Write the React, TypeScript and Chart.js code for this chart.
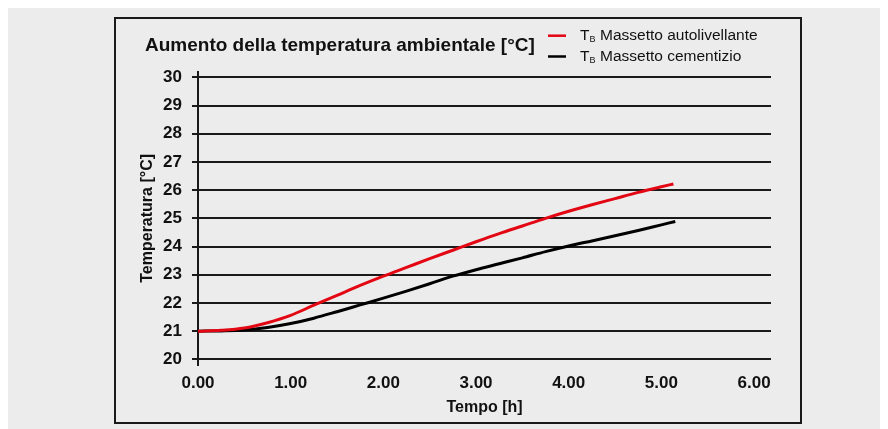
import React, { useEffect, useRef } from "react";
import { Chart, registerables } from "chart.js";

Chart.register(...registerables);

const chartTitle = "Aumento della temperatura ambientale [°C]";
const xAxisTitle = "Tempo [h]";
const yAxisTitle = "Temperatura [°C]";
const legendSymbol = "T";
const legendSubscript = "B";
const seriesNames = ["Massetto autolivellante", "Massetto cementizio"];
const seriesColors = ["#e30613", "#000000"];

const timeSelfLevelling = [0, 0.25, 0.5, 0.75, 1.0, 1.25, 1.5, 1.75, 2.0, 2.25, 2.5, 2.75, 3.0, 3.25, 3.5, 3.75, 4.0, 4.25, 4.5, 4.75, 5.0, 5.13];
const tempSelfLevelling = [21.0, 21.03, 21.11, 21.3, 21.56, 21.92, 22.27, 22.62, 22.95, 23.26, 23.57, 23.87, 24.17, 24.46, 24.73, 25.0, 25.25, 25.48, 25.7, 25.92, 26.12, 26.22];
const timeCement = [0, 0.25, 0.5, 0.75, 1.0, 1.25, 1.5, 1.75, 2.0, 2.25, 2.5, 2.75, 3.0, 3.25, 3.5, 3.75, 4.0, 4.25, 4.5, 4.75, 5.0, 5.15];
const tempCement = [21.0, 21.01, 21.04, 21.13, 21.27, 21.46, 21.69, 21.93, 22.17, 22.42, 22.68, 22.95, 23.18, 23.39, 23.6, 23.82, 24.02, 24.2, 24.38, 24.57, 24.77, 24.89];

const xTickValues = [0, 1, 2, 3, 4, 5, 6];
const yTickValues = [20, 21, 22, 23, 24, 25, 26, 27, 28, 29, 30];

const FONT = "'Liberation Sans', Arial, Helvetica, sans-serif";

const decorPlugin = {
  id: "decor",
  beforeDraw(chart: any) {
    const ctx = chart.ctx;
    ctx.save();
    ctx.fillStyle = "#ececec";
    ctx.fillRect(0, 0, chart.width, chart.height);
    ctx.strokeStyle = "#1a1a1a";
    ctx.lineWidth = 2;
    ctx.strokeRect(107, 10, 686, 405);
    ctx.restore();
  },
  afterDraw(chart: any) {
    const ctx = chart.ctx;
    ctx.save();
    ctx.fillStyle = "#111111";
    ctx.textBaseline = "middle";
    ctx.textAlign = "left";
    ctx.font = `bold 19px ${FONT}`;
    ctx.fillText(chartTitle, 137, 37.5);

    chart.data.datasets.forEach((ds: any, i: number) => {
      const y = 27.7 + 20.8 * i;
      ctx.strokeStyle = ds.borderColor;
      ctx.lineWidth = 2.5;
      ctx.beginPath();
      ctx.moveTo(540, y);
      ctx.lineTo(558, y);
      ctx.stroke();
      ctx.fillStyle = "#111111";
      ctx.font = `15.5px ${FONT}`;
      ctx.fillText(legendSymbol, 572, y + 0.5);
      const w = ctx.measureText(legendSymbol).width;
      ctx.font = `9px ${FONT}`;
      ctx.fillText(legendSubscript, 572 + w, y + 4);
      ctx.font = `15.5px ${FONT}`;
      ctx.fillText(seriesNames[i], 592, y + 0.5);
    });
    ctx.restore();
  },
};

export default function App() {
  const ref = useRef<HTMLCanvasElement | null>(null);

  useEffect(() => {
    document.body.style.overflow = "hidden";
    const canvas = ref.current;
    if (!canvas) return;
    const chart = new Chart(canvas, {
      type: "line",
      data: {
        datasets: [
          {
            label: seriesNames[0],
            data: timeSelfLevelling.map((t, i) => ({ x: t, y: tempSelfLevelling[i] })),
            borderColor: seriesColors[0],
            borderWidth: 3,
            pointRadius: 0,
            cubicInterpolationMode: "monotone",
            fill: false,
          },
          {
            label: seriesNames[1],
            data: timeCement.map((t, i) => ({ x: t, y: tempCement[i] })),
            borderColor: seriesColors[1],
            borderWidth: 3,
            pointRadius: 0,
            cubicInterpolationMode: "monotone",
            fill: false,
          },
        ],
      },
      plugins: [decorPlugin],
      options: {
        responsive: false,
        animation: false,
        layout: { padding: { left: 130.4, right: 137, top: 63.7, bottom: 11.5 } },
        plugins: {
          legend: { display: false },
          title: { display: false },
          tooltip: { enabled: false },
        },
        scales: {
          x: {
            type: "linear",
            min: 0,
            max: 6.183,
            grid: { display: false },
            border: { display: false },
            afterBuildTicks: (scale: any) => {
              scale.ticks = xTickValues.map((v) => ({ value: v }));
            },
            afterFit: (scale: any) => {
              scale.height = 52.5;
            },
            ticks: {
              padding: 0,
              maxRotation: 0,
              autoSkip: false,
              color: "#111111",
              font: { family: FONT, size: 17, weight: "bold" },
              callback: (v: any) => Number(v).toFixed(2),
            },
            title: {
              display: true,
              text: xAxisTitle,
              padding: 0,
              color: "#111111",
              font: { family: FONT, size: 16, weight: "bold" },
            },
          },
          y: {
            type: "linear",
            min: 19.8,
            max: 30.2,
            afterBuildTicks: (scale: any) => {
              scale.ticks = yTickValues.map((v) => ({ value: v }));
            },
            afterFit: (scale: any) => {
              scale.width = 59.6;
            },
            grid: {
              color: "#1a1a1a",
              lineWidth: 2,
              tickLength: 6,
              tickColor: "#1a1a1a",
              tickWidth: 2,
            },
            border: { display: true, color: "#1a1a1a", width: 2 },
            ticks: {
              padding: 10,
              autoSkip: false,
              color: "#111111",
              font: { family: FONT, size: 17, weight: "bold" },
            },
            title: {
              display: true,
              text: yAxisTitle,
              padding: 0,
              color: "#111111",
              font: { family: FONT, size: 16, weight: "bold" },
            },
          },
        },
      } as any,
    });
    return () => chart.destroy();
  }, []);

  return (
    <canvas
      ref={ref}
      width={900}
      height={421}
      style={{ display: "block", width: 900, height: 421 }}
    />
  );
}
